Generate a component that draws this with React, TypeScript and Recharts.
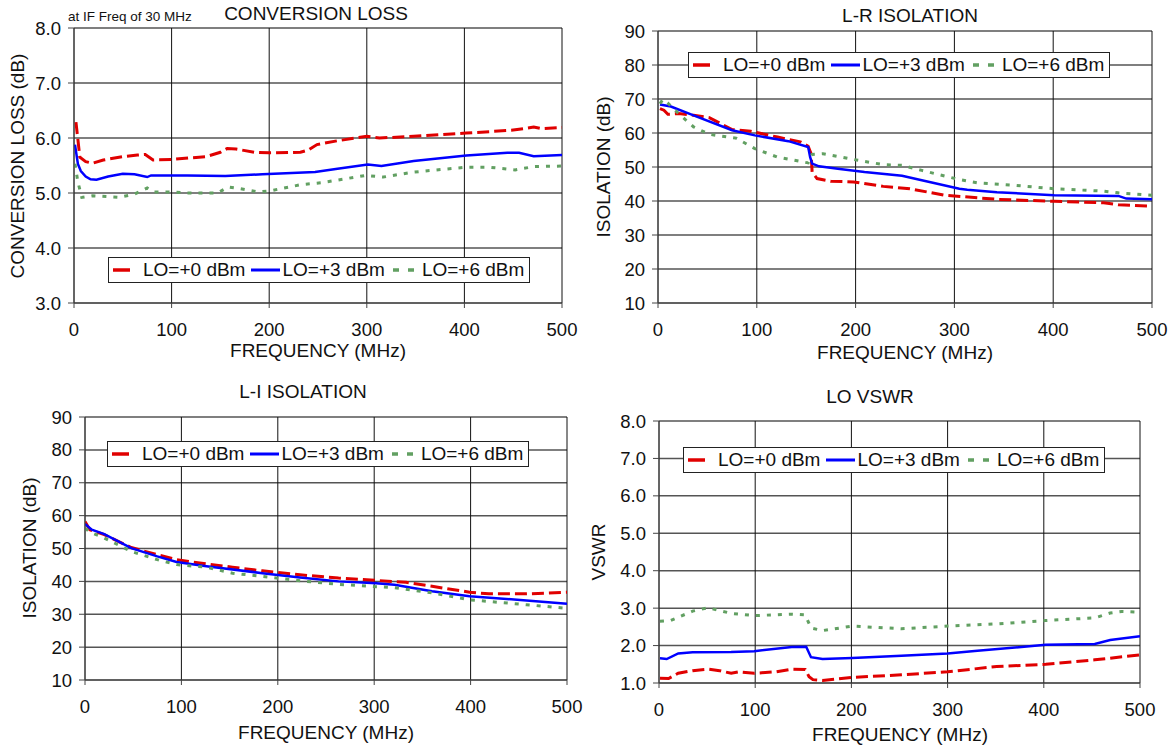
import React from 'react';
import { LineChart, Line, XAxis, YAxis, CartesianGrid, Legend } from 'recharts';

// frequency axis shared by all four panels (MHz)
const freqTicks = [0, 100, 200, 300, 400, 500];
const seriesNames = ['LO=+0 dBm', 'LO=+3 dBm', 'LO=+6 dBm'];

// CONVERSION LOSS (dB) - [freq MHz, value]
const convLoss0: [number, number][] = [
  [2, 6.29], [6, 5.65], [12, 5.57], [19, 5.54], [30, 5.6], [50, 5.66], [65, 5.69], [73, 5.7],
  [77, 5.65], [81, 5.6], [100, 5.61], [120, 5.64], [135, 5.66], [150, 5.74], [157, 5.81],
  [166, 5.8], [185, 5.74], [200, 5.73], [232, 5.74], [240, 5.78], [249, 5.88], [270, 5.95],
  [300, 6.03], [313, 6.0], [348, 6.03], [402, 6.09], [448, 6.14], [464, 6.18], [471, 6.2],
  [479, 6.17], [500, 6.19],
];
const convLoss3: [number, number][] = [
  [1, 5.88], [4, 5.53], [7, 5.4], [12, 5.3], [17, 5.25], [23, 5.24], [35, 5.3], [50, 5.35],
  [62, 5.34], [75, 5.29], [79, 5.32], [116, 5.32], [155, 5.31], [193, 5.34], [247, 5.38],
  [270, 5.44], [301, 5.52], [315, 5.49], [348, 5.58], [402, 5.68], [444, 5.73], [456, 5.73],
  [471, 5.67], [500, 5.69],
];
const convLoss6: [number, number][] = [
  [1, 5.53], [4, 5.2], [8, 4.92], [19, 4.95], [46, 4.92], [62, 4.98], [75, 5.09], [81, 5.02],
  [97, 5.02], [116, 5.0], [147, 5.0], [158, 5.11], [170, 5.08], [189, 5.02], [201, 5.04],
  [232, 5.15], [255, 5.19], [299, 5.32], [317, 5.29], [348, 5.38], [402, 5.47], [425, 5.47],
  [452, 5.42], [471, 5.48], [500, 5.49],
];

// L-R ISOLATION (dB)
const lrIso0: [number, number][] = [
  [2, 67.2], [6, 66.7], [10, 65.5], [21, 65.7], [36, 65.2], [52, 64.5], [75, 61], [94, 60.5],
  [121, 58.8], [144, 57.4], [152, 56.1], [155, 53.9], [156, 48.5], [161, 46.6], [175, 45.8],
  [198, 45.6], [228, 44.3], [255, 43.6], [290, 41.7], [343, 40.5], [401, 39.9], [451, 39.5],
  [466, 38.9], [500, 38.5],
];
const lrIso3: [number, number][] = [
  [2, 68.4], [13, 67.8], [36, 65.2], [75, 60.8], [98, 59.3], [132, 57.6], [152, 55.9],
  [154, 52.9], [156, 51], [163, 50.2], [182, 49.5], [209, 48.5], [247, 47.4], [267, 46.1],
  [305, 43.6], [313, 43.3], [343, 42.6], [401, 41.7], [466, 41.5], [474, 40.7], [500, 40.5],
];
const lrIso6: [number, number][] = [
  [2, 68.6], [5, 69.9], [10, 68.8], [21, 65.7], [36, 61.8], [52, 59.6], [79, 58.5], [98, 55.4],
  [121, 52.9], [152, 51.2], [156, 53.7], [167, 53.9], [198, 52.2], [228, 50.7], [247, 50.5],
  [267, 49], [305, 46.3], [324, 45.3], [362, 44.6], [401, 43.6], [451, 42.9], [466, 42.4],
  [500, 41.7],
];

// L-I ISOLATION (dB)
const liIso0: [number, number][] = [
  [0, 58.2], [5, 55.7], [20, 54.2], [48, 50.3], [75, 48.1], [95, 46.6], [126, 45.3], [153, 44.3],
  [184, 43.2], [223, 42], [263, 41], [302, 40.3], [333, 39.7], [360, 38.5], [399, 36.7],
  [419, 36.2], [458, 36.2], [500, 36.7],
];
const liIso3: [number, number][] = [
  [0, 57.5], [7, 55.7], [20, 54.4], [48, 50.1], [75, 47.6], [95, 45.9], [126, 44.6], [184, 42.5],
  [223, 41.2], [263, 40], [302, 39.4], [321, 39], [360, 37], [399, 35.5], [458, 34.2], [500, 33.2],
];
const liIso6: [number, number][] = [
  [0, 56.2], [5, 55], [20, 53.2], [48, 49.1], [75, 46.6], [95, 45.1], [126, 44.3], [153, 42.5],
  [184, 41.5], [223, 40.2], [263, 39.1], [302, 38.4], [321, 38.1], [360, 36.5], [399, 34.4],
  [458, 32.9], [500, 31.8],
];

// LO VSWR
const loVswr0: [number, number][] = [
  [1, 1.13], [10, 1.12], [20, 1.26], [35, 1.33], [51, 1.37], [63, 1.33], [75, 1.26], [83, 1.3],
  [99, 1.26], [122, 1.3], [138, 1.37], [152, 1.36], [156, 1.17], [160, 1.09], [170, 1.07],
  [201, 1.15], [252, 1.22], [300, 1.3], [351, 1.44], [402, 1.5], [453, 1.62], [500, 1.75],
];
const loVswr3: [number, number][] = [
  [1, 1.66], [8, 1.64], [20, 1.79], [35, 1.82], [75, 1.83], [99, 1.85], [138, 1.96], [153, 1.97],
  [158, 1.69], [170, 1.64], [201, 1.67], [252, 1.73], [300, 1.79], [331, 1.86], [402, 2.02],
  [453, 2.04], [469, 2.15], [500, 2.25],
];
const loVswr6: [number, number][] = [
  [1, 2.65], [12, 2.67], [35, 2.92], [51, 3.01], [75, 2.86], [99, 2.8], [138, 2.84], [152, 2.82],
  [158, 2.47], [170, 2.4], [201, 2.52], [252, 2.45], [300, 2.52], [351, 2.58], [402, 2.67],
  [453, 2.74], [469, 2.87], [481, 2.91], [500, 2.89],
];

const lossTicks = [3, 4, 5, 6, 7, 8];
const isoTicks = [10, 20, 30, 40, 50, 60, 70, 80, 90];
const vswrTicks = [1, 2, 3, 4, 5, 6, 7, 8];

const FONT = '"Liberation Sans", Arial, Helvetica, sans-serif';
const TEXT = '#111';
const Y_W = 50;
const X_H = 30;

const lineStyles = [
  { stroke: '#e00000', strokeWidth: 3, strokeDasharray: '12 5' },
  { stroke: '#0000ff', strokeWidth: 2.5 },
  { stroke: '#62a062', strokeWidth: 3, strokeDasharray: '4 7' },
];

const toPoints = (pairs: [number, number][]) => pairs.map(([f, v]) => ({ f, v }));

function LegendBox() {
  // sample strokes as drawn in the original legend
  const samples = [
    <line key="r" x1={4} y1={5} x2={21} y2={5} stroke="#e00000" strokeWidth={3.5} />,
    <line key="b" x1={6} y1={5} x2={35} y2={5} stroke="#0000ff" strokeWidth={3} />,
    <line key="g" x1={8} y1={5} x2={29} y2={5} stroke="#62a062" strokeWidth={3.5} strokeDasharray="6 9" />,
  ];
  return (
    <div
      style={{
        border: '1px solid #222',
        background: '#fff',
        height: 24,
        display: 'flex',
        alignItems: 'center',
        paddingRight: 5,
        fontFamily: FONT,
        fontSize: 19,
        color: TEXT,
        whiteSpace: 'nowrap',
        lineHeight: '24px',
      }}
    >
      {seriesNames.map((name, i) => (
        <div key={name} style={{ display: 'flex', alignItems: 'center' }}>
          <svg width={i === 0 ? 34 : 37} height={10}>{samples[i]}</svg>
          <span>{name}</span>
        </div>
      ))}
    </div>
  );
}

type Box = { x: number; y: number; w: number; h: number };
type Plot = { l: number; r: number; t: number; b: number };

function Panel(props: {
  box: Box;
  plot: Plot;
  yDomain: [number, number];
  yTicks: number[];
  fmt: (v: number) => string;
  series: [number, number][][];
  legendAt: { x: number; y: number };
}) {
  const { box, plot, yDomain, yTicks, fmt, series, legendAt } = props;
  const margin = {
    left: plot.l - box.x - Y_W,
    right: box.x + box.w - plot.r,
    top: plot.t - box.y,
    bottom: box.y + box.h - plot.b - X_H,
  };
  const tickStyle = { fill: TEXT, fontSize: 18.5, fontFamily: FONT };
  return (
    <div style={{ position: 'absolute', left: box.x, top: box.y }}>
      <LineChart width={box.w} height={box.h} margin={margin}>
        <CartesianGrid vertical={false} stroke="#555" strokeWidth={1.5} />
        <CartesianGrid horizontal={false} stroke="#111" strokeWidth={1} />
        <XAxis
          type="number"
          dataKey="f"
          domain={[0, 500]}
          ticks={freqTicks}
          interval={0}
          allowDataOverflow
          height={X_H}
          tickSize={5}
          tickMargin={15}
          stroke="#444"
          tick={tickStyle}
        />
        <YAxis
          type="number"
          domain={yDomain}
          ticks={yTicks}
          interval={0}
          allowDataOverflow
          width={Y_W}
          tickSize={6}
          tickMargin={7}
          tickFormatter={fmt}
          stroke="#444"
          tick={tickStyle}
        />
        <Legend
          layout="vertical"
          align="center"
          verticalAlign="middle"
          wrapperStyle={{ left: legendAt.x - box.x, top: legendAt.y - box.y, width: 'auto', height: 'auto' }}
          content={() => <LegendBox />}
        />
        {series.map((pairs, i) => (
          <Line
            key={seriesNames[i]}
            name={seriesNames[i]}
            data={toPoints(pairs)}
            dataKey="v"
            type="linear"
            dot={false}
            activeDot={false}
            isAnimationActive={false}
            {...lineStyles[i]}
          />
        ))}
      </LineChart>
    </div>
  );
}

function Caption({ text, cx, cy, size = 19, rotate = false }: { text: string; cx: number; cy: number; size?: number; rotate?: boolean }) {
  return (
    <div
      style={{
        position: 'absolute',
        left: cx - 200,
        top: cy - 10,
        width: 400,
        height: 20,
        lineHeight: '20px',
        textAlign: 'center',
        fontFamily: FONT,
        fontSize: size,
        color: TEXT,
        whiteSpace: 'nowrap',
        transform: rotate ? 'rotate(-90deg)' : undefined,
      }}
    >
      {text}
    </div>
  );
}

const fmt1 = (v: number) => v.toFixed(1);
const fmt0 = (v: number) => String(v);

export default function App() {
  return (
    <div style={{ position: 'absolute', left: 0, top: 0, width: 1174, height: 749, background: '#fff', overflow: 'hidden' }}>
      <Panel
        box={{ x: 0, y: 0, w: 587, h: 372 }}
        plot={{ l: 74, r: 562, t: 28, b: 303 }}
        yDomain={[3, 8]}
        yTicks={lossTicks}
        fmt={fmt1}
        series={[convLoss0, convLoss3, convLoss6]}
        legendAt={{ x: 108, y: 257 }}
      />
      <Panel
        box={{ x: 587, y: 0, w: 587, h: 372 }}
        plot={{ l: 658, r: 1152, t: 31, b: 303 }}
        yDomain={[10, 90]}
        yTicks={isoTicks}
        fmt={fmt0}
        series={[lrIso0, lrIso3, lrIso6]}
        legendAt={{ x: 688, y: 52 }}
      />
      <Panel
        box={{ x: 0, y: 372, w: 587, h: 377 }}
        plot={{ l: 85, r: 567, t: 417, b: 680 }}
        yDomain={[10, 90]}
        yTicks={isoTicks}
        fmt={fmt0}
        series={[liIso0, liIso3, liIso6]}
        legendAt={{ x: 107, y: 441 }}
      />
      <Panel
        box={{ x: 587, y: 372, w: 587, h: 377 }}
        plot={{ l: 659, r: 1140, t: 421, b: 683 }}
        yDomain={[1, 8]}
        yTicks={vswrTicks}
        fmt={fmt1}
        series={[loVswr0, loVswr3, loVswr6]}
        legendAt={{ x: 683, y: 447 }}
      />

      <Caption text="CONVERSION LOSS" cx={316} cy={14} />
      <div style={{ position: 'absolute', left: 68, top: 8, fontFamily: FONT, fontSize: 13.5, color: TEXT, whiteSpace: 'nowrap', lineHeight: '18px' }}>
        at IF Freq of 30 MHz
      </div>
      <Caption text="L-R ISOLATION" cx={910} cy={16} />
      <Caption text="L-I ISOLATION" cx={303} cy={392} />
      <Caption text="LO VSWR" cx={870} cy={397} />

      <Caption text="FREQUENCY (MHz)" cx={318} cy={351} />
      <Caption text="FREQUENCY (MHz)" cx={905} cy={353} />
      <Caption text="FREQUENCY (MHz)" cx={326} cy={733} />
      <Caption text="FREQUENCY (MHz)" cx={900} cy={735} />

      <Caption text="CONVERSION LOSS (dB)" cx={18} cy={166} rotate />
      <Caption text="ISOLATION (dB)" cx={604} cy={167} rotate />
      <Caption text="ISOLATION (dB)" cx={30} cy={548} rotate />
      <Caption text="VSWR" cx={599} cy={552} rotate />
    </div>
  );
}
